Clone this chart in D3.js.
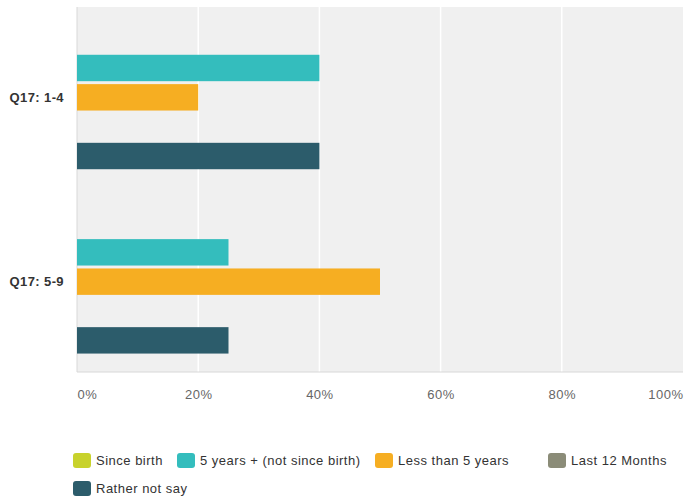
<!DOCTYPE html>
<html><head><meta charset="utf-8">
<script src="https://cdn.jsdelivr.net/npm/d3@7"></script>
<style>body{margin:0;background:#fff;}svg{display:block;font-family:"Liberation Sans",Arial,sans-serif;}</style>
</head><body><svg id="c" width="687" height="502"></svg>
<script>
const categories = ["Q17: 1-4", "Q17: 5-9"];
const seriesNames = ["Since birth", "5 years + (not since birth)", "Less than 5 years", "Last 12 Months", "Rather not say"];
const seriesColors = ["#c8d22c", "#34bdbd", "#f6ae22", "#8b8c78", "#2c5c6b"];
const values = [
  [0, 40, 20, 0, 40],
  [0, 25, 50, 0, 25]
];
const tickValues = [0, 20, 40, 60, 80, 100];

const svg = d3.select("#c");
const m = {l: 77, r: 4, t: 7, b: 130};
const W = 687, H = 502;
const x = d3.scaleLinear().domain([0, 100]).range([m.l, W - m.r]);
const y0 = d3.scaleBand().domain(categories).range([m.t, H - m.b]).paddingInner(0.22).paddingOuter(0.1);
const y1 = d3.scaleBand().domain(d3.range(seriesNames.length)).range([0, y0.bandwidth()]).paddingInner(0.1);

svg.append("rect").attr("x", m.l).attr("y", m.t).attr("width", x(100) - m.l).attr("height", H - m.b - m.t).attr("fill", "#f0f0f0");
svg.append("g").selectAll("line").data(tickValues.slice(1, -1)).join("line")
  .attr("x1", d => x(d)).attr("x2", d => x(d)).attr("y1", m.t).attr("y2", H - m.b)
  .attr("stroke", "#fff").attr("stroke-width", 1.5);
svg.append("line").attr("x1", m.l).attr("x2", m.l).attr("y1", m.t).attr("y2", H - m.b).attr("stroke", "#d8d8d8");
svg.append("line").attr("x1", m.l).attr("x2", x(100)).attr("y1", H - m.b).attr("y2", H - m.b).attr("stroke", "#d8d8d8");

const g = svg.append("g");
categories.forEach((c, ci) => {
  g.append("g").selectAll("rect").data(values[ci].map((v, si) => ({v, si}))).join("rect")
    .attr("x", x(0)).attr("y", d => y0(c) + y1(d.si)).attr("height", y1.bandwidth())
    .attr("width", d => x(d.v) - x(0)).attr("fill", d => seriesColors[d.si]);
});

const xAxis = d3.axisBottom(x).tickValues(tickValues).tickFormat(d => d + "%").tickSize(0).tickPadding(18);
const xa = svg.append("g").attr("transform", `translate(0,${H - m.b})`).call(xAxis);
xa.select(".domain").remove();
xa.selectAll("text").attr("fill", "#666").style("font-size", "13px").style("letter-spacing", "0.5px")
  .attr("text-anchor", (d, i) => i === 0 ? "start" : (i === tickValues.length - 1 ? "end" : "middle"));

const yAxis = d3.axisLeft(y0).tickSize(0).tickPadding(13);
const ya = svg.append("g").attr("transform", `translate(${m.l},0)`).call(yAxis);
ya.select(".domain").remove();
ya.selectAll("text").attr("fill", "#333").style("font-size", "13px").style("font-weight", "bold").style("letter-spacing", "0.4px");

const legendPos = [[73, 460], [177, 460], [375, 460], [548, 460], [73, 488]];
const lg = svg.append("g").selectAll("g").data(seriesNames).join("g")
  .attr("transform", (d, i) => `translate(${legendPos[i][0]},${legendPos[i][1]})`);
lg.append("rect").attr("x", 0).attr("y", -7).attr("width", 18).attr("height", 15).attr("rx", 3).attr("fill", (d, i) => seriesColors[i]);
lg.append("text").attr("x", 23).attr("y", 0).attr("dy", "0.35em").attr("fill", "#333").style("font-size", "13px").style("letter-spacing", "0.5px").text(d => d);
</script></body></html>
